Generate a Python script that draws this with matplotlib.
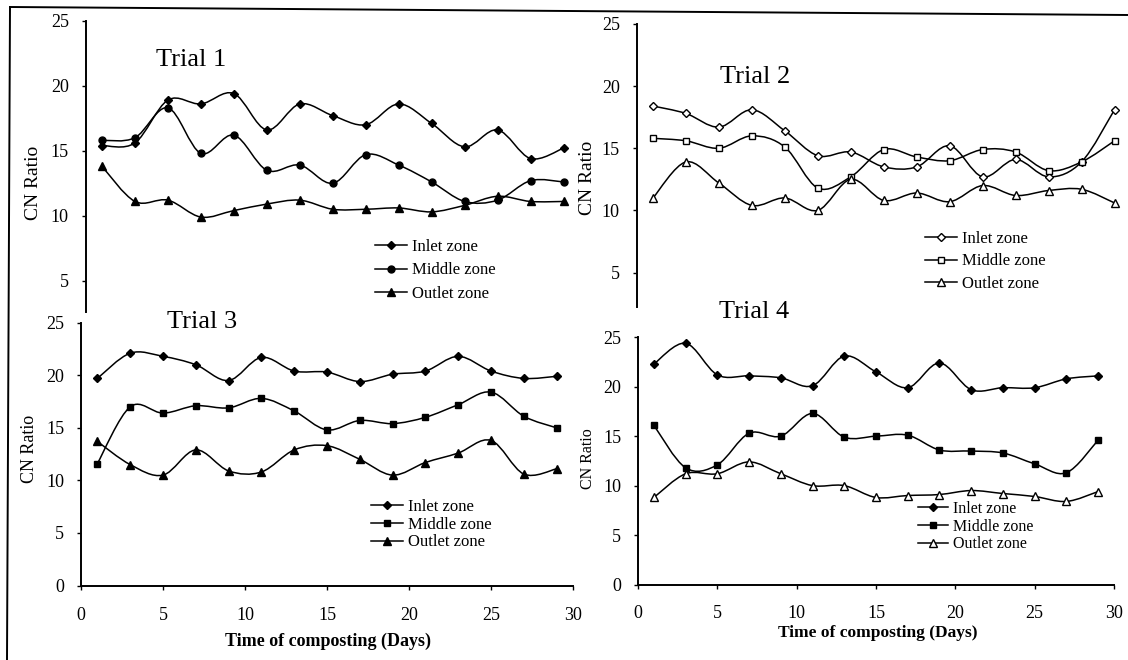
import matplotlib
matplotlib.use('Agg')
import matplotlib.pyplot as plt
import numpy as np
from matplotlib.path import Path
from matplotlib.patches import PathPatch
from matplotlib.lines import Line2D

# sampling days (every second day)
days = [1, 3, 5, 7, 9, 11, 13, 15, 17, 19, 21, 23, 25, 27, 29]
zones = ['Inlet zone', 'Middle zone', 'Outlet zone']

# C/N ratio per zone, one list per trial
trial1_inlet = [15.4, 15.6, 18.9, 18.6, 19.4, 16.6, 18.6, 17.7, 17.0, 18.6, 17.1, 15.3, 16.6, 14.4, 15.2]
trial1_middle = [15.8, 16.0, 18.3, 14.8, 16.2, 13.5, 13.9, 12.5, 14.7, 13.9, 12.6, 11.1, 11.2, 12.7, 12.6]
trial1_outlet = [13.8, 11.1, 11.2, 9.9, 10.4, 10.9, 11.2, 10.5, 10.5, 10.6, 10.3, 10.8, 11.5, 11.1, 11.1]

trial2_inlet = [18.4, 17.8, 16.7, 18.1, 16.4, 14.4, 14.7, 13.5, 13.5, 15.2, 12.7, 14.1, 12.7, 13.9, 18.1]
trial2_middle = [15.8, 15.6, 15.0, 16.0, 15.1, 11.8, 12.7, 14.9, 14.3, 14.0, 14.9, 14.7, 13.2, 13.9, 15.6]
trial2_outlet = [11.0, 13.9, 12.2, 10.4, 11.0, 10.0, 12.5, 10.8, 11.4, 10.7, 12.0, 11.2, 11.6, 11.7, 10.6]

trial3_inlet = [19.7, 22.1, 21.8, 21.0, 19.5, 21.7, 20.4, 20.3, 19.4, 20.1, 20.4, 21.8, 20.4, 19.7, 19.9]
trial3_middle = [11.6, 17.0, 16.4, 17.1, 16.9, 17.8, 16.6, 14.8, 15.7, 15.4, 16.0, 17.2, 18.4, 16.1, 15.0]
trial3_outlet = [13.7, 11.5, 10.5, 12.9, 10.9, 10.8, 12.9, 13.3, 12.0, 10.5, 11.7, 12.6, 13.8, 10.6, 11.1]

trial4_inlet = [22.3, 24.4, 21.2, 21.1, 20.9, 20.1, 23.1, 21.5, 19.9, 22.4, 19.7, 19.9, 19.9, 20.8, 21.1]
trial4_middle = [16.1, 11.8, 12.1, 15.3, 15.0, 17.3, 14.9, 15.0, 15.1, 13.6, 13.5, 13.3, 12.2, 11.3, 14.6]
trial4_outlet = [8.8, 11.2, 11.2, 12.4, 11.2, 10.0, 10.0, 8.8, 9.0, 9.1, 9.5, 9.2, 8.9, 8.4, 9.4]

W, H = 1128, 660
DPI = 100

plt.rcParams['font.family'] = ['Liberation Serif', 'DejaVu Serif']


def fx(x):
    return x / W


def fy(y):
    return 1 - y / H


def smooth_path(x, y):
    # bezier through each point, like spreadsheet "smoothed line"
    pts = np.column_stack([x, y]).astype(float)
    ext = np.vstack([pts[0], pts, pts[-1]])
    verts = [pts[0]]
    codes = [Path.MOVETO]
    for i in range(len(pts) - 1):
        p0, p1, p2, p3 = ext[i], ext[i + 1], ext[i + 2], ext[i + 3]
        verts += [p1 + (p2 - p0) / 6, p2 - (p3 - p1) / 6, p2]
        codes += [Path.CURVE4] * 3
    return Path(verts, codes)


def make_axes(fig, left, right, top, bottom, ymin, xpad=None):
    ax = fig.add_axes([fx(left), fy(bottom), (right - left) / W, (bottom - top) / H])
    ax.set_facecolor('none')
    ax.set_xlim(0, 30)
    ax.set_ylim(ymin, 25)
    for s in ['top', 'right']:
        ax.spines[s].set_visible(False)
    ax.spines['left'].set_linewidth(1.4)
    if xpad is not None:
        ax.spines['bottom'].set_linewidth(1.4)
        ax.set_yticks([0, 5, 10, 15, 20, 25])
        ax.set_xticks([0, 5, 10, 15, 20, 25, 30])
        ax.tick_params(axis='x', direction='out', length=3, width=1, pad=xpad, labelsize=13)
    else:
        ax.spines['bottom'].set_visible(False)
        ax.set_yticks([5, 10, 15, 20, 25])
        ax.set_xticks([])
    ax.tick_params(axis='y', direction='out', length=3, width=1, pad=9, labelsize=13)
    return ax


def draw_series(ax, series, styles):
    for vals, st in zip(series, styles):
        ax.add_patch(PathPatch(smooth_path(days, vals), fill=False,
                               edgecolor='black', lw=1.1, transform=ax.transData))
        ax.plot(days, vals, ls='none', color='black', **st)


def add_legend(ax, styles, x, y, size, spacing):
    handles = [Line2D([], [], color='black', lw=1.1, **st) for st in styles]
    ax.legend(handles, zones, loc='upper left', bbox_to_anchor=(fx(x), fy(y)),
              bbox_transform=ax.figure.transFigure, frameon=False, borderpad=0,
              borderaxespad=0, handlelength=1.9, handletextpad=0.3,
              labelspacing=spacing, fontsize=size)


filled = [dict(marker='D', ms=4, mfc='black', mec='black'),
          dict(marker='o', ms=5, mfc='black', mec='black'),
          dict(marker='^', ms=5.5, mfc='black', mec='black')]
hollow = [dict(marker='D', ms=4, mfc='white', mec='black'),
          dict(marker='s', ms=5, mfc='white', mec='black'),
          dict(marker='^', ms=5.5, mfc='white', mec='black')]
squares = [dict(marker='D', ms=4, mfc='black', mec='black'),
           dict(marker='s', ms=5, mfc='black', mec='black'),
           dict(marker='^', ms=5.5, mfc='black', mec='black')]
mixed = [dict(marker='D', ms=4, mfc='black', mec='black'),
         dict(marker='s', ms=5, mfc='black', mec='black'),
         dict(marker='^', ms=5.5, mfc='white', mec='black')]

fig = plt.figure(figsize=(W / DPI, H / DPI), dpi=DPI)

# Trial 1
ax1 = make_axes(fig, 85.5, 580, 20.7, 312, 2.6)
draw_series(ax1, [trial1_inlet, trial1_middle, trial1_outlet], filled)
add_legend(ax1, filled, 375, 239, 12, 0.45)

# Trial 2
ax2 = make_axes(fig, 636.5, 1131, 24, 306.7, 2.25)
draw_series(ax2, [trial2_inlet, trial2_middle, trial2_outlet], hollow)
add_legend(ax2, hollow, 925, 231, 12, 0.38)

# Trial 3
ax3 = make_axes(fig, 81, 573, 322.7, 585.5, 0, xpad=12.5)
draw_series(ax3, [trial3_inlet, trial3_middle, trial3_outlet], squares)
add_legend(ax3, squares, 371, 499, 12, 0.1)

# Trial 4
ax4 = make_axes(fig, 638, 1114, 337.3, 584.5, 0, xpad=11.5)
draw_series(ax4, [trial4_inlet, trial4_middle, trial4_outlet], mixed)
add_legend(ax4, mixed, 918, 501, 11.5, 0.1)

# panel titles
fig.text(fx(191), fy(60), 'Trial 1', ha='center', va='center', fontsize=19)
fig.text(fx(755), fy(77), 'Trial 2', ha='center', va='center', fontsize=19)
fig.text(fx(202), fy(322), 'Trial 3', ha='center', va='center', fontsize=19)
fig.text(fx(754), fy(312), 'Trial 4', ha='center', va='center', fontsize=19)

# axis labels
fig.text(fx(33), fy(183), 'CN Ratio', rotation=90, ha='center', va='center', fontsize=14)
fig.text(fx(588), fy(178), 'CN Ratio', rotation=90, ha='center', va='center', fontsize=14)
fig.text(fx(29), fy(449), 'CN Ratio', rotation=90, ha='center', va='center', fontsize=13)
fig.text(fx(588), fy(459), 'CN Ratio', rotation=90, ha='center', va='center', fontsize=11.5)
fig.text(fx(328), fy(641), 'Time of composting (Days)', ha='center', va='center',
         fontsize=13, fontweight='bold')
fig.text(fx(878), fy(633), 'Time of composting (Days)', ha='center', va='center',
         fontsize=12.5, fontweight='bold')

# outer frame of the figure
fig.add_artist(Line2D([fx(10), fx(1128)], [fy(7), fy(15)], color='black', lw=1.4))
fig.add_artist(Line2D([fx(10), fx(7)], [fy(7), fy(660)], color='black', lw=1.4))

fig.savefig('out.png', dpi=DPI)
